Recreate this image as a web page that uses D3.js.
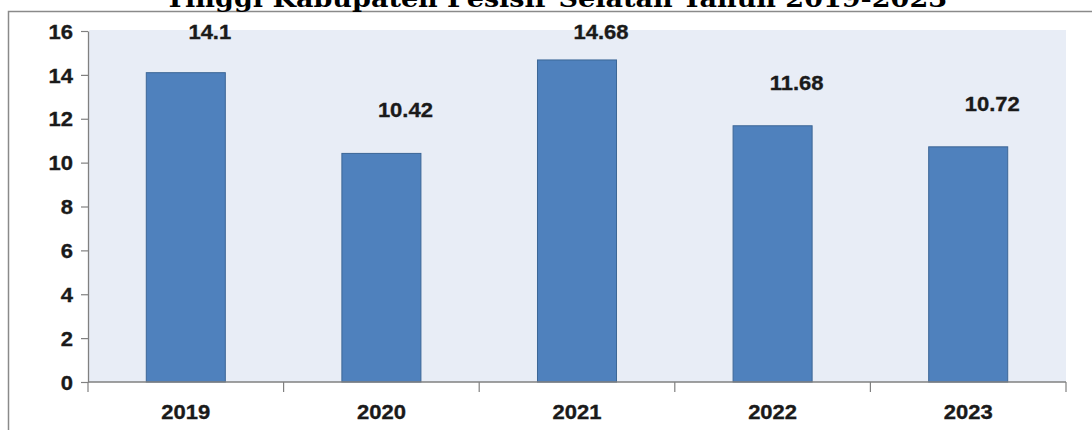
<!DOCTYPE html>
<html>
<head>
<meta charset="utf-8">
<script src="https://cdn.jsdelivr.net/npm/d3@7"></script>
<style>
  html, body { margin: 0; padding: 0; background: #ffffff; }
  svg { display: block; }
  text { font-family: "Liberation Sans", Arial, sans-serif; font-weight: bold; fill: #1a1a1a; }
</style>
</head>
<body>
<script>
const titleText = "Tinggi Kabupaten Pesisir Selatan Tahun 2019-2023";
const categories = ["2019", "2020", "2021", "2022", "2023"];
const values = [14.1, 10.42, 14.68, 11.68, 10.72];
const valueLabels = ["14.1", "10.42", "14.68", "11.68", "10.72"];
const yTicks = [0, 2, 4, 6, 8, 10, 12, 14, 16];

const W = 1092, H = 430;
const m = { left: 88, right: 26, top: 31, bottom: 48 };
const svg = d3.select("body").append("svg").attr("width", W).attr("height", H);

// outer frame
svg.append("rect").attr("x", 0).attr("y", 0).attr("width", W).attr("height", H).attr("fill", "#ffffff");
svg.append("path").attr("d", `M8.5,${H} L8.5,11.5 L${W},11.5`).attr("fill", "none")
  .attr("stroke", "#8a8a8a").attr("stroke-width", 1.5);

// title (only lower part visible)
svg.append("text").attr("x", 556).attr("y", 7).attr("text-anchor", "middle")
  .style("font-family", "'DejaVu Serif', 'Liberation Serif', serif")
  .style("font-size", "25px").style("font-weight", "bold").style("fill", "#000")
  .attr("textLength", 782).attr("lengthAdjust", "spacingAndGlyphs")
  .text(titleText);

const x = d3.scaleBand().domain(categories).range([m.left, W - m.right])
  .paddingInner(0.596).paddingOuter(0.298);
const y = d3.scaleLinear().domain([0, 16]).range([H - m.bottom, m.top]);

// plot background
svg.append("rect").attr("x", m.left + 1).attr("y", y(16) - 1)
  .attr("width", (W - m.right) - m.left - 1).attr("height", y(0) - y(16) + 1)
  .attr("fill", "#e8edf6");

// bars
svg.append("g").selectAll("rect").data(values).join("rect")
  .attr("x", (d, i) => x(categories[i]))
  .attr("y", d => y(d))
  .attr("width", x.bandwidth())
  .attr("height", d => y(0) - y(d))
  .attr("fill", "#4f81bd")
  .attr("stroke", "#3c6696").attr("stroke-width", 1);

const txtStyle = sel => sel.style("font-size", "20px")
  .style("font-family", "'Liberation Sans', Arial, sans-serif")
  .style("font-weight", "bold").attr("fill", "#1a1a1a")
  .attr("stroke", "#1a1a1a").attr("stroke-width", 0.35);

// y axis
const yAxis = d3.axisLeft(y).tickValues(yTicks).tickSize(7).tickPadding(8).tickSizeOuter(0);
const gy = svg.append("g").attr("transform", `translate(${m.left},0)`).call(yAxis);
gy.select(".domain").attr("stroke", "#808080").attr("stroke-width", 1.3);
gy.selectAll(".tick line").attr("stroke", "#808080").attr("stroke-width", 1.2);
gy.selectAll(".tick text").attr("x", null).attr("dy", null)
  .attr("transform", "translate(-15,0) scale(1.1,1)")
  .attr("dominant-baseline", "central")
  .call(txtStyle);

// x axis line and boundary ticks
const gx = svg.append("g");
gx.append("line").attr("x1", m.left).attr("x2", W - m.right).attr("y1", y(0)).attr("y2", y(0))
  .attr("stroke", "#808080").attr("stroke-width", 1.3);
const bounds = categories.map(c => x(c) - x.step() * x.paddingInner() / 2)
  .concat([W - m.right]);
gx.selectAll("line.b").data(bounds).join("line").attr("class", "b")
  .attr("x1", d => d).attr("x2", d => d).attr("y1", y(0)).attr("y2", y(0) + 10)
  .attr("stroke", "#808080").attr("stroke-width", 1.2);
gx.selectAll("text").data(categories).join("text")
  .attr("transform", d => `translate(${x(d) + x.bandwidth() / 2},${y(0) + 37}) scale(1.1,1)`)
  .attr("text-anchor", "middle")
  .call(txtStyle)
  .text(d => d);

// value labels
svg.append("g").selectAll("text").data(values).join("text")
  .attr("transform", (d, i) => `translate(${x(categories[i]) + x.bandwidth() / 2 + 24},${Math.max(y(d) - 36, y(16) + 8)}) scale(1.1,1)`)
  .attr("text-anchor", "middle")
  .call(txtStyle)
  .text((d, i) => valueLabels[i]);
</script>
</body>
</html>
